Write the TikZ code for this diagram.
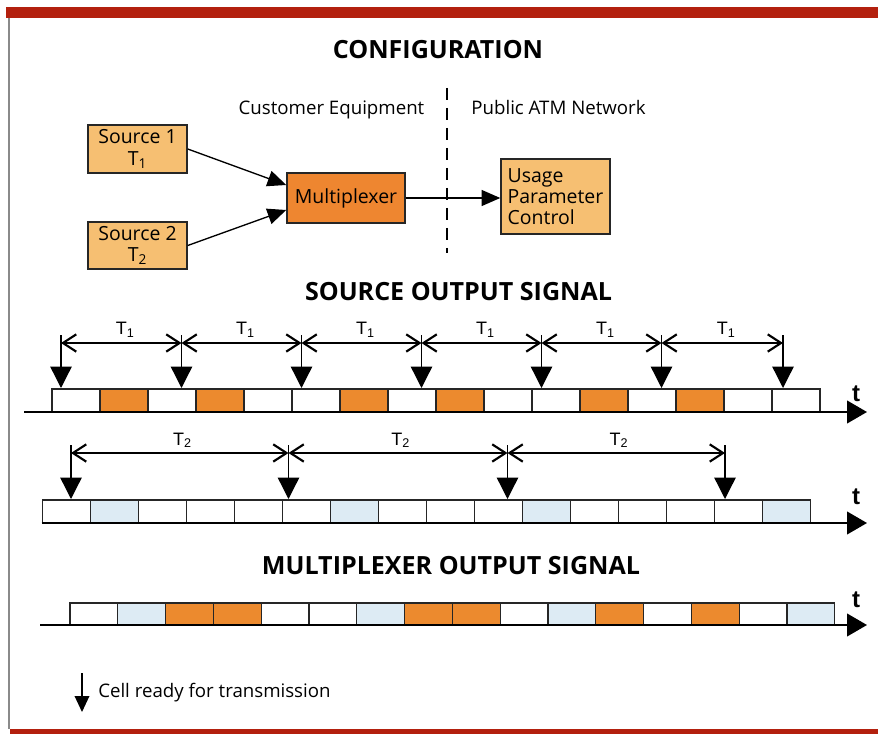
\documentclass[tikz,border=0pt]{standalone}
\usepackage{fontspec}
\setmainfont{Open Sans}
\newfontfamily\arialf{Liberation Sans}
\usetikzlibrary{arrows.meta}
\definecolor{barred}{HTML}{B3200E}
\definecolor{tanbox}{HTML}{F6BF72}
\definecolor{muxor}{HTML}{EE8630}
\definecolor{cellor}{HTML}{EC8A2E}
\definecolor{cellbl}{HTML}{DDEBF4}
\definecolor{frameg}{HTML}{8A8A8A}
\begin{document}
\begin{tikzpicture}[x=0.75pt,y=-0.75pt,
  box/.style={draw=black!85, line width=1.1pt, fill=tanbox, inner sep=0pt, align=center,
    font=\fontsize{14.6}{15.8}\selectfont},
  title/.style={font=\bfseries\fontsize{18.8}{22}\selectfont, inner sep=0pt},
  lbl/.style={font=\fontsize{14}{16}\selectfont, inner sep=0pt},
  tlbl/.style={font=\arialf\fontsize{13.5}{15}\selectfont, inner sep=0pt},
  tax/.style={font=\arialf\bfseries\fontsize{18}{19}\selectfont, inner sep=0pt},
  cellbox/.style={draw=black!85, line width=1pt},
  ready/.style={line width=1pt, -{Triangle[length=16pt,width=16pt]}},
  dim/.style={line width=0.8pt, {Straight Barb[length=10pt,width=13pt,line width=1.6pt]}-{Straight Barb[length=10pt,width=13pt,line width=1.6pt]}},
  axisline/.style={line width=1.6pt, -{Triangle[length=15pt,width=17pt]}},
  feed/.style={line width=1pt, -{Triangle[length=14pt,width=12pt]}},
  legarrow/.style={line width=1pt, -{Triangle[length=12pt,width=11pt]}}
]
\useasboundingbox (0,0) rectangle (878,734);
% frame
\fill[barred] (6,7) rectangle (878,18);
\fill[barred] (10,729) rectangle (878,734);
\draw[frameg, line width=0.8pt] (9,18) -- (9,729);

% ---------- configuration ----------
\node[title] (tconf) at (438,49.5) {CONFIGURATION};
\node[lbl, anchor=base] (tcust) at (331.5,115) {Customer Equipment};
\node[lbl, anchor=base] (tpub) at (558.5,115) {Public ATM Network};
\coordinate (dtop) at (447,88);
\coordinate (dbot) at (447,253);
\draw[line width=1pt, dash pattern=on 9pt off 6pt] (dtop) -- (dbot);

\node[box, minimum width=74.25pt, minimum height=36pt] (s1) at (137.5,149) {Source 1\\T\textsubscript{1}};
\node[box, minimum width=74.25pt, minimum height=35.25pt] (s2) at (137.5,245.5) {Source 2\\T\textsubscript{2}};
\node[box, fill=muxor, minimum width=88.5pt, minimum height=37.5pt] (mux) at (346,198) {Multiplexer};
\node[box, align=left, minimum width=81.75pt, minimum height=56.25pt] (upc) at (555.5,196.5) {Usage\\Parameter\\Control};

\draw[feed] (s1.east) -- ([yshift=9.75pt]mux.west);
\draw[feed] (s2.east) -- ([yshift=-9pt]mux.west);
\draw[feed] (mux.east) -- (mux.east -| upc.west);

% ---------- source output signal ----------
\node[title] (tsrc) at (458.5,292) {SOURCE OUTPUT SIGNAL};

% row 1 cells
\foreach \i/\c in {0/white,1/cellor,2/white,3/cellor,4/white,5/white,6/cellor,7/white,8/cellor,9/white,10/white,11/cellor,12/white,13/cellor,14/white,15/white}{
  \draw[cellbox, fill=\c] ({52+48*\i},389) rectangle ({52+48*(\i+1)},412);
}
\coordinate (a1s) at (24,412);
\coordinate (a1e) at (867,412);
\draw[axisline] (a1s) -- (a1e);
\node[tax] (t1ax) at (856,394) {t};

% row 1 ticks
\foreach \n/\x in {1/61,2/181.5,3/301.5,4/421.5,5/541.5,6/661.5,7/783}{
  \coordinate (r1t\n) at (\x,335);
  \coordinate (r1d\n) at (\x,343);
  \coordinate (r1c\n) at (\x,388);
  \draw[ready] (r1t\n) -- (r1c\n);
}
\foreach \a/\b in {1/2,2/3,3/4,4/5,5/6,6/7}{
  \draw[dim] (r1d\a) -- (r1d\b);
  \path (r1d\a) -- (r1d\b) node[tlbl, midway, yshift=10pt, xshift=3pt] (lab1\a) {T\textsubscript{1}};
}

% row 2 cells
\foreach \i/\c in {0/white,1/cellbl,2/white,3/white,4/white,5/white,6/cellbl,7/white,8/white,9/white,10/cellbl,11/white,12/white,13/white,14/white,15/cellbl}{
  \draw[cellbox, fill=\c] ({42.7+48*\i},500) rectangle ({42.7+48*(\i+1)},523);
}
\coordinate (a2s) at (41.7,523);
\coordinate (a2e) at (867,523);
\draw[axisline] (a2s) -- (a2e);
\node[tax] (t2ax) at (856,497) {t};

\foreach \n/\x in {1/71,2/288.5,3/507.5,4/725}{
  \coordinate (r2t\n) at (\x,445);
  \coordinate (r2d\n) at (\x,453);
  \coordinate (r2c\n) at (\x,499);
  \draw[ready] (r2t\n) -- (r2c\n);
}
\foreach \a/\b in {1/2,2/3,3/4}{
  \draw[dim] (r2d\a) -- (r2d\b);
  \path (r2d\a) -- (r2d\b) node[tlbl, midway, yshift=9.5pt, xshift=2pt] (lab2\a) {T\textsubscript{2}};
}

% ---------- multiplexer output signal ----------
\node[title] (tmux) at (451,566) {MULTIPLEXER OUTPUT SIGNAL};
\foreach \i/\c in {0/white,1/cellbl,2/cellor,3/cellor,4/white,5/white,6/cellbl,7/cellor,8/cellor,9/white,10/cellbl,11/cellor,12/white,13/cellor,14/white,15/cellbl}{
  \draw[cellbox, fill=\c] ({70+47.8*\i},603) rectangle ({70+47.8*(\i+1)},625);
}
\coordinate (a3s) at (40,625);
\coordinate (a3e) at (867,625);
\draw[axisline] (a3s) -- (a3e);
\node[tax] (t3ax) at (856,600) {t};

% ---------- legend ----------
\coordinate (lgt) at (82,673);
\coordinate (lgb) at (82,712);
\draw[legarrow] (lgt) -- (lgb);
\node[lbl, anchor=base west] (lgtext) at (98,697) {Cell ready for transmission};
\end{tikzpicture}
\end{document}
